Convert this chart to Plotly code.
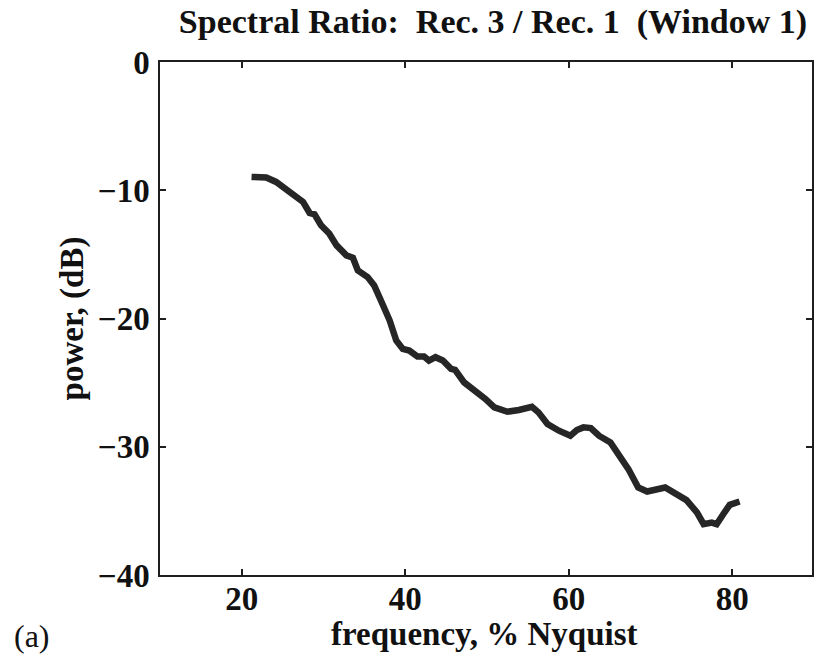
import plotly.graph_objects as go

freq = [21.2, 23.0, 24.2, 25.5, 26.3, 27.5, 28.3, 28.9, 29.7, 30.7, 31.6, 32.8, 33.6, 34.2,
        35.4, 36.2, 37.2, 38.1, 38.9, 39.7, 40.5, 41.5, 42.3, 42.9, 43.7, 44.6, 45.6, 46.1,
        47.2, 48.6, 49.8, 50.9, 52.5, 53.9, 55.5, 56.3, 57.4, 58.8, 60.2, 61.0, 61.8, 62.7,
        63.7, 65.1, 66.1, 67.3, 68.5, 69.6, 71.8, 73.4, 74.4, 75.7, 76.5, 77.5, 78.1, 78.9,
        79.7, 80.9]
power_db = [-8.96, -9.01, -9.35, -9.95, -10.21, -10.91, -11.77, -11.88, -12.73, -13.38, -14.30,
            -15.08, -15.26, -16.25, -16.77, -17.42, -18.85, -20.16, -21.72, -22.37, -22.50,
            -22.97, -22.97, -23.28, -23.02, -23.28, -23.93, -24.01, -24.98, -25.63, -26.27,
            -26.93, -27.27, -27.13, -26.88, -27.32, -28.23, -28.75, -29.14, -28.70, -28.49,
            -28.54, -29.14, -29.66, -30.57, -31.74, -33.18, -33.49, -33.18, -33.83, -34.16,
            -35.13, -36.04, -35.91, -36.04, -35.26, -34.53, -34.27]

x_ticks = [20, 40, 60, 80]
y_ticks = [-40, -30, -20, -10, 0]

title_text = "Spectral Ratio:\u00a0\u00a0Rec. 3 / Rec. 1\u00a0\u00a0(Window 1)"
x_title = "frequency, % Nyquist"
y_title = "power, (dB)"
panel_label = "(a)"

FONT = "Liberation Serif"
INK = "#1e1e1e"

fig = go.Figure()
fig.add_trace(go.Scatter(
    x=freq, y=power_db, mode="lines",
    line=dict(color="#262626", width=6.5),
    showlegend=False, hoverinfo="skip",
))

axis_common = dict(
    showgrid=False, zeroline=False,
    showline=True, linecolor=INK, linewidth=1.5,
    ticks="inside", ticklen=6, tickwidth=1.5, tickcolor=INK,
    mirror="allticks",
    tickfont=dict(family=FONT, size=33, color="#111111", weight="bold"),
)

fig.update_layout(
    width=814, height=656,
    margin=dict(l=160, r=0, t=62, b=81),
    paper_bgcolor="white", plot_bgcolor="white",
    title=dict(
        text=title_text,
        font=dict(family=FONT, size=34, color="#111111", weight="bold"),
        x=493 / 814, xref="container", xanchor="center",
        y=1 - 9 / 656, yref="container", yanchor="top",
    ),
    xaxis=dict(
        range=[10, 89.76], tickvals=x_ticks,
        ticklabelstandoff=-6,
        **axis_common,
    ),
    yaxis=dict(
        range=[-40, 0], tickvals=y_ticks,
        title=dict(text=y_title, standoff=4,
                   font=dict(family=FONT, size=33, color="#111111", weight="bold")),
        ticklabelstandoff=2,
        **axis_common,
    ),
)

# x-axis title placed just under the tick labels, as in the reference
fig.add_annotation(
    text=x_title, xref="paper", yref="paper",
    x=(485 - 160) / 654, y=-(643 - 575) / 513,
    xanchor="center", yanchor="bottom", yshift=-11, showarrow=False,
    font=dict(family=FONT, size=33, color="#111111", weight="bold"),
)

fig.add_annotation(
    text=panel_label, xref="paper", yref="paper",
    x=-160 / 654 + 32 / 654, y=-(636 - 575) / 513,
    xanchor="center", yanchor="middle", showarrow=False,
    font=dict(family=FONT, size=32, color="#111111"),
)

fig.write_html("out.html")
